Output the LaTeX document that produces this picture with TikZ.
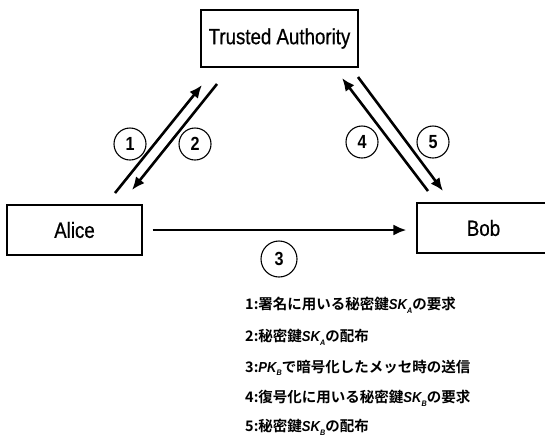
\documentclass[tikz,border=0pt]{standalone}
\usepackage{fontspec}
\usetikzlibrary{arrows.meta}
\newfontfamily\narrow{Liberation Sans}[FakeStretch=0.85,FakeBold=0.6]
\newfontfamily\narrowbold{Liberation Sans Bold}[FakeStretch=0.85]
\newfontfamily\jp{Noto Sans CJK JP Bold}
\newfontfamily\lsi{Liberation Sans}[FakeStretch=0.9]
\newcommand{\keyname}[2]{{\lsi\bfseries\itshape #1\raisebox{-0.25em}{\fontsize{8}{8}\selectfont #2}}}
\begin{document}
\begin{tikzpicture}[x=1pt,y=-1pt,
  party/.style={draw,line width=1.1pt,inner sep=0pt,font=\narrow\fontsize{22}{24}\selectfont},
  flow/.style={line width=2.6pt,-{Latex[length=13pt,width=11pt]}},
  num/.style={draw,circle,line width=1.1pt,inner sep=0pt,minimum size=32pt,font=\narrowbold\fontsize{19}{20}\selectfont},
  legend/.style={anchor=west,inner sep=0pt,font=\jp\fontsize{14.5}{16}\selectfont}]
\useasboundingbox (0,0) rectangle (545,440);
% boxes
\node[party,minimum width=157pt,minimum height=57pt] (ta) at (279.5,38.5) {Trusted Authority};
\node[party,minimum width=135pt,minimum height=50pt] (alice) at (74.5,230) {Alice};
\node[party,minimum width=133pt,minimum height=50pt] (bob) at (483.5,228) {Bob};
% arrow end points
\coordinate (a1s) at (115,193); \coordinate (a1e) at (202,85);
\coordinate (a2s) at (217,84);  \coordinate (a2e) at (132,190);
\coordinate (a4s) at (428,191); \coordinate (a4e) at (342,78);
\coordinate (a5s) at (358,77);  \coordinate (a5e) at (443,191);
\draw[flow] (a1s) -- (a1e);
\draw[flow] (a2s) -- (a2e);
\draw[flow] (a4s) -- (a4e);
\draw[flow] (a5s) -- (a5e);
\draw[flow] ([xshift=10pt]alice.east) -- ([xshift=-10pt,yshift=-2pt]bob.west);
% circled numbers
\node[num] (n1) at (130,144) {1};
\node[num] (n2) at (195,144) {2};
\node[num] (n4) at (362,142) {4};
\node[num] (n5) at (433,142) {5};
\node[num,minimum size=36pt] (n3) at (279,259) {3};
% legend
\node[legend] (l1) at (245,305) {1:署名に用いる秘密鍵\keyname{SK}{A}の要求};
\node[legend] (l2) at (245,337) {2:秘密鍵\keyname{SK}{A}の配布};
\node[legend] (l3) at (245,368) {3:\keyname{PK}{B}で暗号化したメッセ時の送信};
\node[legend] (l4) at (245,398) {4:復号化に用いる秘密鍵\keyname{SK}{B}の要求};
\node[legend] (l5) at (245,427) {5:秘密鍵\keyname{SK}{B}の配布};
\end{tikzpicture}
\end{document}
